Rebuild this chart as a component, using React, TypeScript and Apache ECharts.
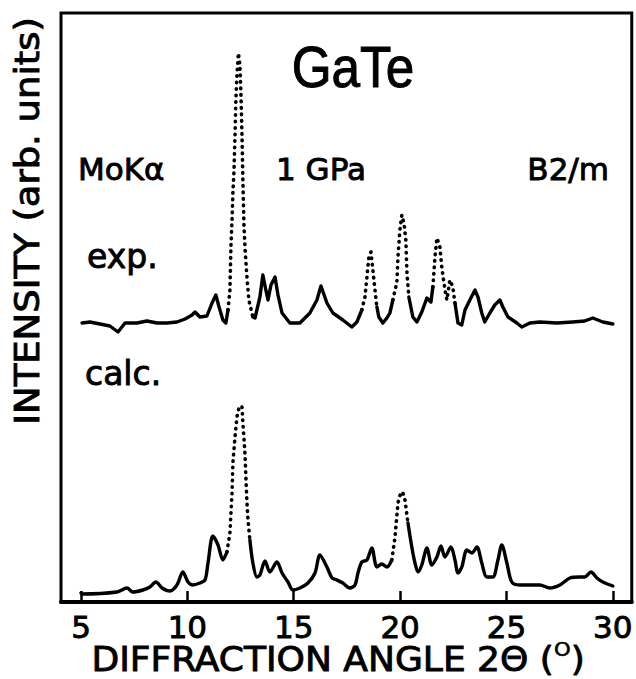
import React, { useEffect, useRef } from "react";
import * as echarts from "echarts";

// ---- data (2θ in degrees, intensity in arb. units) ----
const tickValues = [5, 10, 15, 20, 25, 30];

const expAngle = [
  5.05, 5.42, 5.89, 6.36, 6.74, 7.07, 7.63, 8.1, 8.57, 9.04, 9.51, 9.89, 10.22, 10.36, 10.59, 10.92,
  11.16, 11.34, 11.49, 11.67, 11.81, 11.91, 12.0, 12.05, 12.1, 12.14, 12.19, 12.24, 12.28, 12.33,
  12.4, 12.47, 12.52, 12.57, 12.61, 12.66, 12.71, 12.8, 12.89, 13.08, 13.18, 13.41, 13.55, 13.69,
  13.79, 13.93, 14.12, 14.26, 14.45, 14.82, 15.29, 15.76, 16.09, 16.28, 16.56, 16.84, 17.31, 17.73,
  17.97, 18.2, 18.35, 18.44, 18.53, 18.63, 18.72, 18.82, 18.91, 19.0, 19.19, 19.38, 19.52, 19.66,
  19.85, 19.9, 19.99, 20.08, 20.18, 20.27, 20.32, 20.41, 20.6, 20.79, 21.02, 21.26, 21.45, 21.54,
  21.64, 21.73, 21.87, 21.96, 22.11, 22.2, 22.34, 22.48, 22.58, 22.72, 22.9, 23.05, 23.28, 23.52,
  23.66, 23.84, 23.98, 24.22, 24.45, 24.69, 24.83, 25.07, 25.49, 25.72, 26.1, 26.57, 27.37, 28.12,
  28.68, 29.06, 29.53, 30.0,
];
const expIntensity = [
  279, 280, 278, 276, 270, 279, 279, 281, 279, 279, 280, 283, 287, 290, 285, 286,
  299, 307, 295, 282, 279, 292, 312, 357, 382, 409, 430, 467, 502, 527,
  549, 537, 507, 465, 422, 377, 354, 325, 302, 285, 284, 305, 327, 312,
  302, 317, 325, 307, 289, 279, 279, 289, 302, 316, 299, 289, 282, 275,
  280, 292, 305, 325, 345, 350, 332, 312, 295, 285, 279, 284, 289, 302,
  320, 345, 372, 387, 379, 362, 330, 305, 285, 280, 290, 304, 300, 315,
  345, 364, 355, 335, 312, 302, 322, 315, 299, 279, 277, 292, 302, 312,
  305, 289, 280, 289, 297, 302, 295, 285, 279, 275, 279, 280, 279, 280,
  281, 284, 280, 278,
];
const expDotted: [number, number][] = [
  [11.95, 13.1],
  [18.35, 18.95],
  [19.85, 20.45],
  [21.55, 22.6],
];

const calcAngle = [
  5.0, 5.05, 6.69, 7.16, 7.44, 7.91, 8.24, 8.52, 8.81, 9.18, 9.51, 9.79, 10.03, 10.26, 10.59, 10.83,
  10.97, 11.2, 11.44, 11.67, 11.86, 12.0, 12.1, 12.14, 12.24, 12.33, 12.45, 12.57, 12.61, 12.66,
  12.71, 12.75, 12.8, 12.85, 12.94, 13.08, 13.27, 13.41, 13.65, 13.88, 14.21, 14.45, 14.73, 14.96,
  15.29, 15.67, 16.0, 16.23, 16.56, 16.8, 17.03, 17.31, 17.64, 17.88, 18.02, 18.2, 18.44, 18.67,
  18.91, 19.14, 19.38, 19.61, 19.76, 19.9, 20.04, 20.13, 20.23, 20.37, 20.55, 20.7, 20.84, 21.02,
  21.26, 21.49, 21.73, 21.92, 22.11, 22.39, 22.58, 22.72, 22.9, 23.14, 23.37, 23.61, 23.84, 24.08,
  24.36, 24.6, 24.78, 25.02, 25.25, 25.63, 26.1, 26.57, 27.04, 27.51, 27.98, 28.45, 28.68, 28.97,
  29.25, 29.53, 30.0,
];
const calcIntensity = [
  9, 8, 10, 14, 10, 12, 15, 20, 14, 11, 17, 30, 20, 17, 19, 22,
  39, 66, 57, 42, 50, 69, 109, 139, 165, 185, 196, 195, 179, 164,
  147, 125, 100, 82, 62, 39, 25, 27, 41, 30, 40, 29, 20, 12,
  14, 19, 29, 47, 35, 24, 22, 19, 14, 17, 29, 40, 42, 54,
  35, 38, 35, 42, 65, 99, 110, 109, 102, 79, 55, 39, 30, 37,
  54, 37, 45, 56, 45, 55, 42, 29, 35, 52, 49, 55, 39, 25,
  25, 42, 57, 39, 20, 17, 17, 17, 14, 17, 24, 25, 25, 30,
  24, 20, 16,
];
const calcDotted: [number, number][] = [
  [11.95, 13.0],
  [19.7, 20.4],
];

const FONT = "DejaVu Sans";

type Seg = { dotted: boolean; pts: number[][] };

function splitSegments(xs: number[], ys: number[], ranges: [number, number][]): Seg[] {
  const segs: Seg[] = [];
  let cur: Seg | null = null;
  for (let i = 0; i < xs.length; i++) {
    const d = ranges.some(([a, b]) => xs[i] >= a && xs[i] <= b);
    if (!cur || cur.dotted !== d) {
      const prev: number[] | null = cur ? cur.pts[cur.pts.length - 1] : null;
      cur = { dotted: d, pts: prev ? [prev] : [] };
      segs.push(cur);
    }
    cur.pts.push([xs[i], ys[i]]);
  }
  return segs;
}

function toSeries(segs: Seg[], name: string, smooth: number) {
  return segs.map((s, i) => ({
    type: "line",
    name: name + i,
    data: s.pts,
    showSymbol: false,
    smooth: s.dotted ? 0 : smooth,
    silent: true,
    lineStyle: s.dotted
      ? { color: "#000", width: 3.6, type: [0.5, 6], cap: "round" }
      : { color: "#000", width: 3.4, cap: "round", join: "round" },
  }));
}

const txt = (text: string, x: number, y: number, align: string, fontSize: number) => ({
  type: "text",
  x,
  y,
  style: {
    text,
    fontSize,
    fontFamily: FONT,
    fill: "#000",
    stroke: "#000",
    lineWidth: 0.9,
    align,
    verticalAlign: "middle",
  },
});

export default function App() {
  const ref = useRef<HTMLDivElement>(null);
  useEffect(() => {
    if (!ref.current) return;
    const chart = echarts.init(ref.current, undefined, { renderer: "svg" });
    const series = [
      ...toSeries(splitSegments(expAngle, expIntensity, expDotted), "exp", 0),
      ...toSeries(splitSegments(calcAngle, calcIntensity, calcDotted), "calc", 0.3),
    ];
    chart.setOption({
      animation: false,
      backgroundColor: "#fff",
      textStyle: { fontFamily: FONT, color: "#000" },
      grid: {
        left: 61,
        right: 4,
        top: 13,
        bottom: 77,
        show: true,
        borderColor: "#000",
        borderWidth: 3,
      },
      xAxis: {
        type: "value",
        min: 4.06,
        max: 30.89,
        axisLine: { show: true, onZero: false, lineStyle: { color: "#000", width: 4 } },
        axisTick: {
          show: true,
          inside: true,
          length: 11,
          customValues: tickValues,
          lineStyle: { color: "#000", width: 2.5 },
        },
        axisLabel: {
          show: true,
          customValues: tickValues,
          fontSize: 31,
          fontFamily: FONT,
          color: "#000",
          textBorderColor: "#000",
          textBorderWidth: 0.9,
          margin: 9,
        },
        splitLine: { show: false },
      },
      yAxis: {
        type: "value",
        min: 0,
        max: 589,
        show: false,
        splitLine: { show: false },
      },
      graphic: [
        {
          type: "text",
          x: 353,
          y: 67,
          scaleX: 0.9,
          style: {
            text: "GaTe",
            fontSize: 57,
            fontFamily: "Liberation Sans",
            fill: "#000",
            stroke: "#000",
            lineWidth: 1,
            align: "center",
            verticalAlign: "middle",
          },
        },
        txt("MoKα", 78, 169, "left", 31),
        txt("1 GPa", 321, 169, "center", 31),
        txt("B2/m", 609, 169, "right", 31),
        txt("exp.", 87, 256, "left", 33),
        txt("calc.", 85, 373, "left", 33),
        {
          type: "text",
          x: 27,
          y: 221,
          rotation: Math.PI / 2,
          scaleX: 1.12,
          style: {
            text: "INTENSITY (arb. units)",
            fontSize: 33,
            fontFamily: FONT,
            fill: "#000",
            stroke: "#000",
            lineWidth: 0.9,
            align: "center",
            verticalAlign: "middle",
          },
        },
        {
          type: "text",
          x: 338,
          y: 659,
          scaleX: 1.06,
          style: {
            text: "{a|DIFFRACTION ANGLE 2Θ (}{s|O}{a|)}",
            fill: "#000",
            align: "center",
            verticalAlign: "middle",
            rich: {
              a: { fontSize: 34, fontFamily: FONT, fill: "#000", stroke: "#000", lineWidth: 0.9, lineHeight: 40 },
              s: { fontSize: 20, fontFamily: FONT, fill: "#000", stroke: "#000", lineWidth: 0.6, verticalAlign: "top", lineHeight: 40 },
            },
          },
        },
      ],
      series,
    });
    return () => chart.dispose();
  }, []);
  return <div ref={ref} style={{ width: 636, height: 679, position: "absolute", left: 0, top: 0 }} />;
}
